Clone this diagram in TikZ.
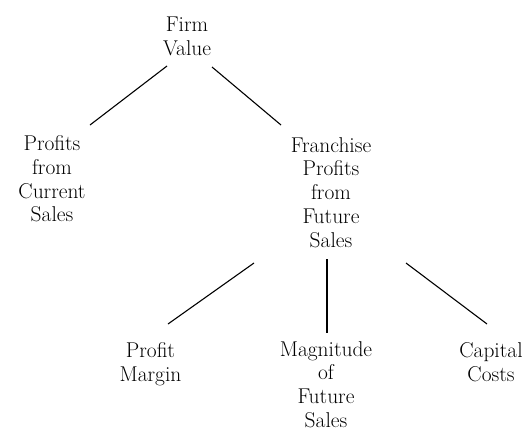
\documentclass[tikz,border=0pt]{standalone}
\usepackage{tikz}

\tikzset{
  box/.style={anchor=north,align=center,inner sep=0pt,
    font=\fontsize{21.5}{24}\selectfont},
  link/.style={line width=1.1pt}
}

\begin{document}
\begin{tikzpicture}[x=10bp,y=-10bp]
\useasboundingbox (0,0) rectangle (52.7,43.3);
\node[box] (firm) at (18.7,1.71) {Firm\\Value};
\node[box] (cur) at (5.2,13.5) {Profits\\from\\Current\\Sales};
\node[box] (fran) at (33.1,13.7) {Franchise\\Profits\\from\\Future\\Sales};
\node[box] (margin) at (15.05,34.2) {Profit\\Margin};
\node[box] (magn) at (32.6,34.1) {Magnitude\\of\\Future\\Sales};
\node[box] (cost) at (49.1,34.2) {Capital\\Costs};
% line ends
\coordinate (firm-l) at (16.7,6.6);
\coordinate (firm-r) at (21.2,6.7);
\coordinate (cur-t) at (9.0,12.5);
\coordinate (fran-t) at (28.1,12.5);
\coordinate (fran-l) at (25.4,26.3);
\coordinate (fran-m) at (32.7,25.9);
\coordinate (fran-r) at (40.6,26.3);
\coordinate (margin-t) at (16.8,32.4);
\coordinate (magn-t) at (32.7,33.3);
\coordinate (cost-t) at (48.7,32.4);
\draw[link] (firm-l)--(cur-t);
\draw[link] (firm-r)--(fran-t);
\draw[link] (fran-l)--(margin-t);
\draw[link] (fran-m)--(magn-t);
\draw[link] (fran-r)--(cost-t);
\end{tikzpicture}
\end{document}
